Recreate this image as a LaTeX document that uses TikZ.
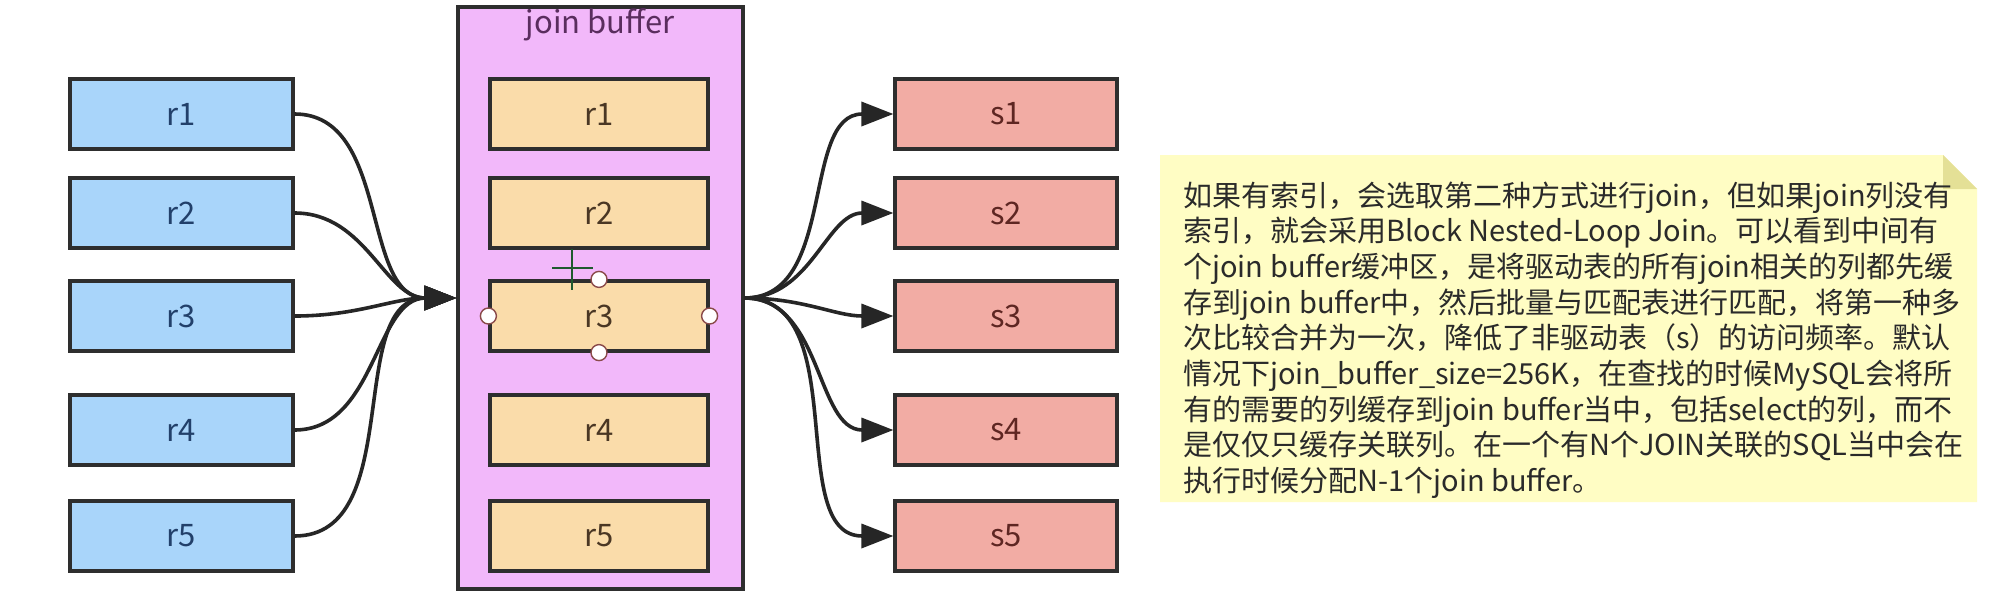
\documentclass[tikz,border=0pt]{standalone}
\usepackage{fontspec}
\newfontfamily\cjk{Noto Sans CJK SC}
\usetikzlibrary{arrows.meta}
\definecolor{edge}{HTML}{2E2E2E}
\definecolor{linecol}{HTML}{262626}
\definecolor{bluefill}{HTML}{A9D5FA}
\definecolor{bluetext}{HTML}{22406A}
\definecolor{jbfill}{HTML}{F2B8FA}
\definecolor{jbtext}{HTML}{5A2D5E}
\definecolor{innerfill}{HTML}{FADCAA}
\definecolor{innertext}{HTML}{4A3724}
\definecolor{sfill}{HTML}{F2ACA4}
\definecolor{stext}{HTML}{5E2622}
\definecolor{notefill}{HTML}{FFFDC4}
\definecolor{foldcol}{HTML}{E4E096}
\definecolor{notetextcol}{HTML}{2A2A2A}
\definecolor{handlecol}{HTML}{8A4A4A}
\definecolor{crosscol}{HTML}{1E5A2E}
\tikzset{
  box/.style={draw=edge, line width=1.6pt, minimum height=35pt, inner sep=0pt,
    font=\cjk\fontsize{15.5}{18}\selectfont},
  lbox/.style={box, fill=bluefill, minimum width=111.5pt, text=bluetext},
  ibox/.style={box, fill=innerfill, minimum width=109pt, text=innertext},
  sbox/.style={box, fill=sfill, minimum width=111pt, text=stext},
  conn/.style={line width=1.8pt, draw=linecol, -{Triangle[length=16pt,width=12pt]}},
  handle/.style={circle, draw=handlecol, fill=white, line width=0.7pt,
    minimum size=8pt, inner sep=0pt},
  notetext/.style={anchor=base west, inner sep=0pt,
    font=\cjk\fontsize{14.5}{17}\selectfont, text=notetextcol},
}
\begin{document}
\begin{tikzpicture}[x=0.5pt,y=-0.5pt]
\useasboundingbox (0,0) rectangle (1994,612);
\fill[white] (0,0) rectangle (1994,612);

% join buffer container
\node[draw=edge, line width=1.6pt, fill=jbfill, minimum width=142.5pt,
  minimum height=291pt, inner sep=0pt] (jb) at (600.5,298) {};
\node[anchor=base, inner sep=0pt, text=jbtext,
  font=\cjk\fontsize{15.5}{18}\selectfont] (jbt) at (600,33) {join buffer};

% left boxes
\node[lbox] (r1) at (181.5,114) {r1};
\node[lbox] (r2) at (181.5,213) {r2};
\node[lbox] (r3) at (181.5,316) {r3};
\node[lbox] (r4) at (181.5,430) {r4};
\node[lbox] (r5) at (181.5,536) {r5};

% inner boxes
\node[ibox] (i1) at (599,114) {r1};
\node[ibox] (i2) at (599,213) {r2};
\node[ibox] (i3) at (599,316) {r3};
\node[ibox] (i4) at (599,430) {r4};
\node[ibox] (i5) at (599,536) {r5};

% right boxes
\node[sbox] (s1) at (1006,114) {s1};
\node[sbox] (s2) at (1006,213) {s2};
\node[sbox] (s3) at (1006,316) {s3};
\node[sbox] (s4) at (1006,430) {s4};
\node[sbox] (s5) at (1006,536) {s5};

% connectors
\foreach \k in {1,...,5}{
  \draw[conn] (r\k.east) to[out=0,in=180] (jb.west);
  \draw[conn] (jb.east) to[out=0,in=180] (s\k.west);
}

% selection cursor and handles
\draw[crosscol, line width=1.2pt] (552,268) -- (593,268) (572,249) -- (572,290);
\node[handle] (h1) at (i3.north) {};
\node[handle] (h2) at (i3.west) {};
\node[handle] (h3) at (i3.east) {};
\node[handle] (h4) at (i3.south) {};

% note
\fill[notefill] (1160,155) -- (1943,155) -- (1977,189) -- (1977,502) -- (1160,502) -- cycle;
\fill[foldcol] (1943,155) -- (1977,189) -- (1943,189) -- cycle;
\node[notetext] (n1) at (1183,206.0) {如果有索引，会选取第二种方式进行join，但如果join列没有};
\node[notetext] (n2) at (1183,241.7) {索引，就会采用Block Nested-Loop Join。可以看到中间有};
\node[notetext] (n3) at (1183,277.4) {个join buffer缓冲区，是将驱动表的所有join相关的列都先缓};
\node[notetext] (n4) at (1183,313.1) {存到join buffer中，然后批量与匹配表进行匹配，将第一种多};
\node[notetext] (n5) at (1183,348.8) {次比较合并为一次，降低了非驱动表（s）的访问频率。默认};
\node[notetext] (n6) at (1183,384.5) {情况下join\_buffer\_size=256K，在查找的时候MySQL会将所};
\node[notetext] (n7) at (1183,420.2) {有的需要的列缓存到join buffer当中，包括select的列，而不};
\node[notetext] (n8) at (1183,455.9) {是仅仅只缓存关联列。在一个有N个JOIN关联的SQL当中会在};
\node[notetext] (n9) at (1183,491.6) {执行时候分配N-1个join buffer。};
\end{tikzpicture}
\end{document}
